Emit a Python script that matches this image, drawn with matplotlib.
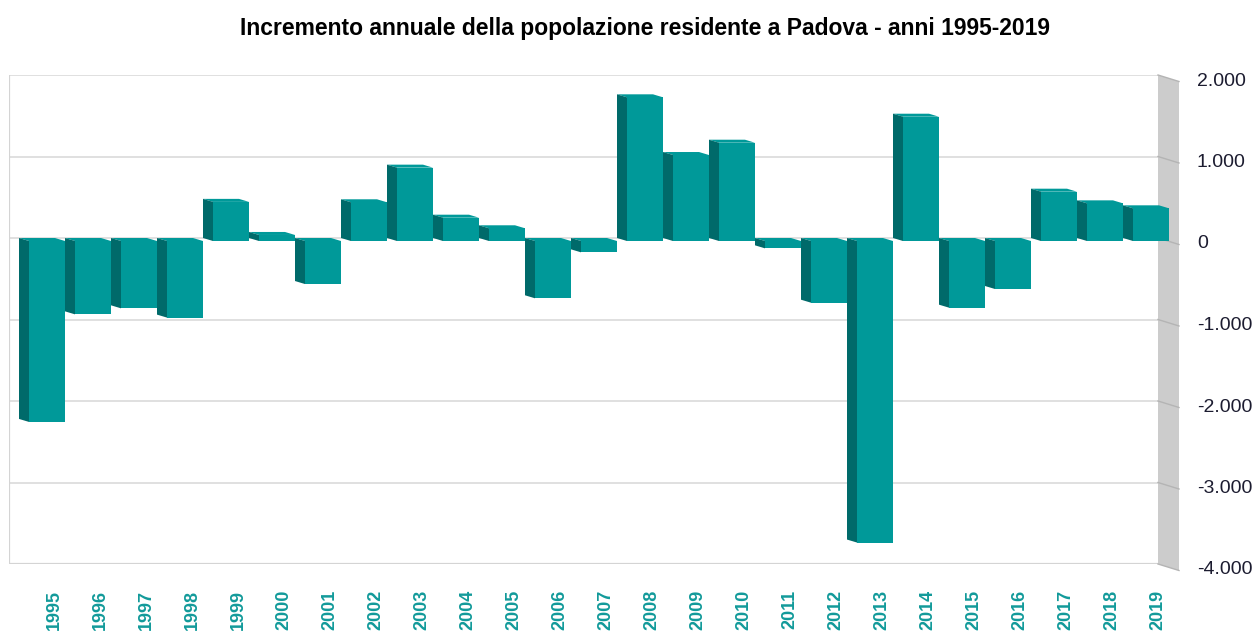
import matplotlib
matplotlib.use("Agg")
import matplotlib.pyplot as plt
from matplotlib.patches import Polygon

# data
anni = [str(a) for a in range(1995, 2020)]
incremento = [-2220, -900, -826, -940, 480, 74, -528, 475, 900, 286, 156, -703, -139,
              1763, 1055, 1206, -90, -757, -3700, 1525, -818, -589, 605, 462, 401]
yticks = [2000, 1000, 0, -1000, -2000, -3000, -4000]
ylabels = ["2.000", "1.000", "0", "-1.000", "-2.000", "-3.000", "-4.000"]
titolo = "Incremento annuale della popolazione residente a Padova - anni 1995-2019"

W, H = 1254, 634
fig = plt.figure(figsize=(W / 100, H / 100), dpi=100)
plt.rcParams['font.family'] = ['Liberation Sans', 'DejaVu Sans']

# plot area in pixels: x 9..1158, y 75 (2000) .. 564 (-4000)
ax = fig.add_axes([9 / W, 1 - 564 / H, 1149 / W, 489 / H])
step = 46.0                     # px per category
ax.set_xlim(0, 1149 / step)
ax.set_ylim(-4000, 2000)
ax.axis('off')

upx = 6000 / 489.0              # value units per pixel
dx = 10 / step                  # depth of the bar (to the left)
dy = 3 * upx                    # depth of the bar (upwards)
front = '#009999'
side = '#006a6a'
grid = '#dadada'

# grid and frame
for v in yticks:
    ax.plot([0, 1149 / step], [v, v], color=grid, lw=1.2, zorder=1, solid_capstyle='butt')
ax.plot([0, 0], [-4000, 2000], color='#d4d4d4', lw=1.6, zorder=1)
ax.plot([0, 1149 / step], [-4000, -4000], color='#d4d4d4', lw=1.6, zorder=1)

# grey wall on the right
wl = 1149 / step
wr = (1179 - 9) / step
wdy = 6.5 * upx
ax.add_patch(Polygon([(wl, 2000), (wr, 2000 - wdy), (wr, -4000 - wdy), (wl, -4000)],
                     closed=True, facecolor='#cccccc', edgecolor='none', clip_on=False, zorder=1))
for v in yticks:
    ax.plot([wl, wr], [v, v - wdy], color='#b4b4b4', lw=1.0, clip_on=False, zorder=2)

# bars, drawn left to right
for i, v in enumerate(incremento):
    xf = i + 20 / step          # left edge of front face
    xr = xf + 36 / step         # right edge of front face
    # top / cap face
    yt = max(v, 0)
    ax.add_patch(Polygon([(xf, yt - dy), (xr, yt - dy), (xr - dx, yt), (xf - dx, yt)],
                         closed=True, facecolor=front, edgecolor='none', clip_on=False, zorder=3))
    # side face
    ax.add_patch(Polygon([(xf, -dy), (xf, v - dy), (xf - dx, v), (xf - dx, 0)],
                         closed=True, facecolor=side, edgecolor='none', clip_on=False, zorder=3))
    # front face
    ax.add_patch(Polygon([(xf, -dy), (xr, -dy), (xr, v - dy), (xf, v - dy)],
                         closed=True, facecolor=front, edgecolor='none', clip_on=False, zorder=4))
    # year label
    ax.text(i + 45 / step, -4000 - 26 * upx, anni[i], rotation=90, ha='center', va='top',
            color='#129a9a', fontsize=13, fontweight='bold', clip_on=False)

# value labels on the right
for v, lab in zip(yticks, ylabels):
    ax.text((1197 - 9) / step, v - 6 * upx, lab, ha='left', va='center',
            color='#1c1c30', fontsize=14, clip_on=False)

fig.text(645 / W, 1 - 28 / H, titolo, ha='center', va='center', fontsize=16.5, fontweight='bold',
         color='black')

fig.savefig('out.png', dpi=100)
